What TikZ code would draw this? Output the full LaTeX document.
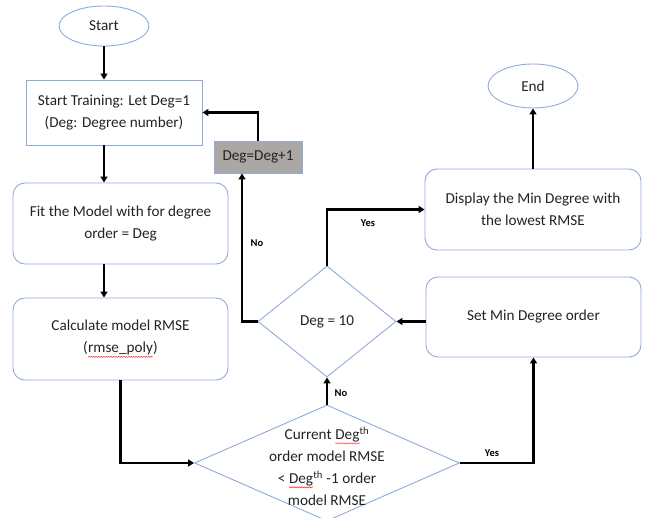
\documentclass[tikz,border=0pt]{standalone}
\usepackage{fontspec}
\setmainfont{Carlito}
\usetikzlibrary{shapes.geometric,arrows.meta,decorations.pathmorphing,calc}
\definecolor{bord}{RGB}{143,170,220}
\definecolor{txtc}{RGB}{35,35,35}
\definecolor{boxgray}{RGB}{170,167,164}
\newcommand\squig[1]{\tikz[baseline=(sq.base)]{\node[shape=rectangle,draw=none,fill=none,sharp corners,minimum width=0pt,minimum height=0pt,inner sep=0pt,outer sep=0pt](sq){#1};\draw[red!85,sharp corners,line width=0.5pt,decorate,decoration={snake,amplitude=0.6pt,segment length=2.5pt}]([yshift=-1.5pt]sq.south west)--([yshift=-1.5pt]sq.south east);}}
\begin{document}
\begin{tikzpicture}[x=1pt,y=-1pt,
 base/.style={draw=bord,line width=0.9pt,text=txtc,font=\fontsize{15.2pt}{22pt}\selectfont,align=center,inner sep=0pt},
 ell/.style={base,ellipse},
 sbox/.style={base,rectangle},
 rbox/.style={base,rectangle,rounded corners=12pt},
 dia/.style={base,diamond},
 arr/.style={draw=black,line width=2.2pt,-{Triangle[length=6pt,width=7pt]}},
 lab/.style={font=\fontsize{10.5pt}{12pt}\selectfont\bfseries,text=black}]
\useasboundingbox (0,0) rectangle (646,518);
\node[ell,minimum width=90pt,minimum height=40pt] (start) at (104,26) {Start};
\node[sbox,minimum width=176pt,minimum height=65pt] (train) at (114,112.5) {Start Training: Let Deg=1\\(Deg: Degree number)};
\node[rbox,minimum width=215pt,minimum height=81pt] (fit) at (120.5,223.5) {Fit the Model with for degree\\order = Deg};
\node[rbox,minimum width=215pt,minimum height=82pt] (calc) at (120.5,339) {Calculate model RMSE\\(\squig{rmse\_poly})};
\node[sbox,fill=boxgray,minimum width=88pt,minimum height=32pt] (inc) at (258,157) {Deg=Deg+1};
\node[dia,minimum width=138pt,minimum height=111pt] (d10) at (327,321.5) {Deg = 10};
\node[dia,minimum width=265pt,minimum height=116pt] (cmp) at (327,463) {};
\node[base,draw=none] (cmptxt) at (327,466) {Current \squig{Deg}\textsuperscript{th}\\order model RMSE\\< \squig{Deg}\textsuperscript{th} -1 order\\model RMSE};
\node[rbox,minimum width=216pt,minimum height=81pt] (disp) at (533,209.5) {Display the Min Degree with\\the lowest RMSE};
\node[rbox,minimum width=215pt,minimum height=80pt] (setmin) at (533.5,317) {Set Min Degree order};
\node[ell,minimum width=90pt,minimum height=44pt] (end) at (533,86) {End};
\coordinate (nx) at (242,0);
\draw[arr] (start.south) -- (start.south |- train.north);
\draw[arr] (train.south -| start.south) -- (fit.north -| start.south);
\draw[arr] (fit.south -| start.south) -- (calc.north -| start.south);
\draw[arr] (calc.south) |- (cmp.west);
\draw[arr] (cmp.north) -- (d10.south);
\draw[arr] (d10.north) |- (disp.west);
\draw[arr] (d10.west) -| (nx |- inc.south);
\draw[arr] (inc.north) |- (train.east);
\draw[arr] (setmin.west |- d10.east) -- (d10.east);
\draw[arr] (cmp.east) -| (setmin.south);
\draw[arr] (disp.north -| end.south) -- (end.south);
\node[lab] (l1) at (341,393) {No};
\node[lab] (l2) at (368,223) {Yes};
\node[lab] (l3) at (257,243) {No};
\node[lab] (l4) at (492,453) {Yes};
\end{tikzpicture}
\end{document}
